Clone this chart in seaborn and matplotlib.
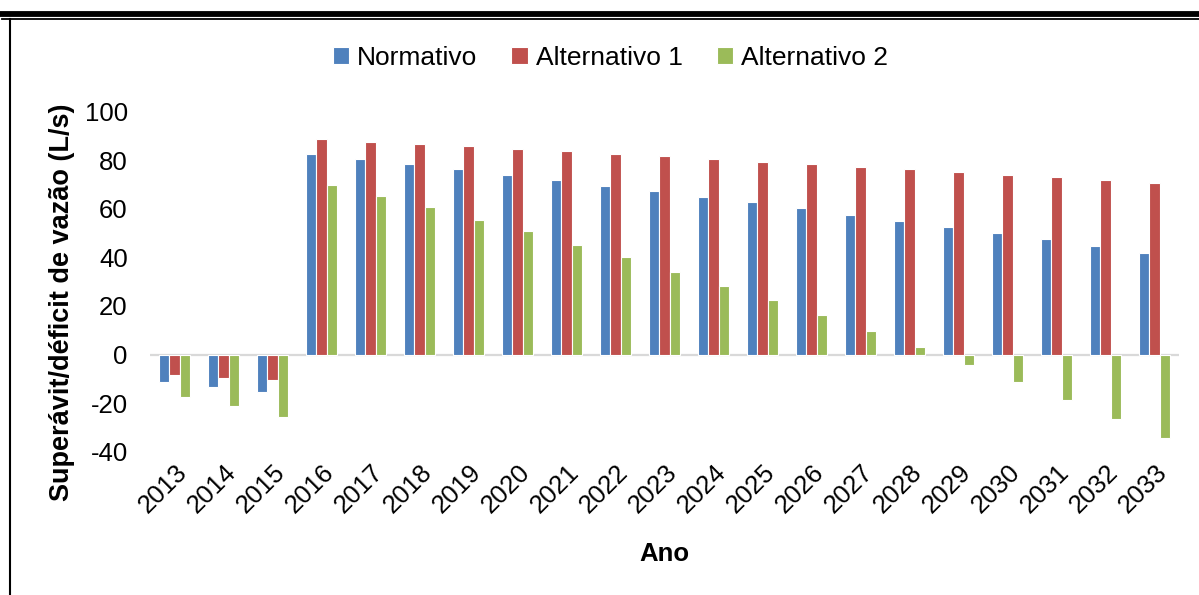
import pandas as pd
import matplotlib.pyplot as plt
import matplotlib.lines as mlines
import seaborn as sns

# Dados
anos = [str(a) for a in range(2013, 2034)]
normativo = [-11.3, -13.3, -15.3, 82.5, 80.6, 78.5, 76.3, 74.1, 71.9, 69.6, 67.4,
             65.0, 62.7, 60.2, 57.6, 55.1, 52.7, 50.0, 47.4, 44.7, 41.9]
alternativo1 = [-8.5, -9.5, -10.3, 88.6, 87.7, 86.7, 85.7, 84.6, 83.7, 82.6, 81.6,
                80.5, 79.4, 78.5, 77.4, 76.3, 75.2, 74.1, 73.0, 71.8, 70.8]
alternativo2 = [-17.3, -21.3, -25.6, 70.0, 65.3, 60.6, 55.6, 50.7, 45.3, 40.0, 34.2,
                28.4, 22.4, 16.2, 9.7, 3.0, -4.1, -11.1, -18.6, -26.4, -34.2]
series = ['Normativo', 'Alternativo 1', 'Alternativo 2']
cores = ['#4F81BD', '#C0504D', '#9BBB59']

df = pd.DataFrame({
    'Ano': anos * 3,
    'valor': normativo + alternativo1 + alternativo2,
    'serie': [s for s in series for _ in anos],
})

plt.rcParams['font.family'] = ['Liberation Sans', 'DejaVu Sans']
plt.rcParams['axes.unicode_minus'] = False

fig = plt.figure(figsize=(11.99, 5.95), dpi=100)
ax = fig.add_axes([0.1251, 0.2408, 0.8582, 0.5715])

sns.barplot(data=df, x='Ano', y='valor', hue='serie', palette=cores, saturation=1,
            width=0.64, edgecolor='white', linewidth=0.8, ax=ax)

ax.set_ylim(-40, 100)
ax.set_xlim(-0.5, 20.5)
ax.set_yticks(range(-40, 101, 20))
ax.axhline(0, color='#d9d9d9', linewidth=1.6, zorder=0.5)
for s in ax.spines.values():
    s.set_visible(False)

ax.tick_params(axis='y', length=0, pad=16, labelsize=18.5)
ax.tick_params(axis='x', length=0, pad=6, labelsize=18.5)
plt.setp(ax.get_xticklabels(), rotation=45, ha='right', rotation_mode='anchor')

ax.set_ylabel('Superávit/déficit de vazão (L/s)', fontsize=19.5, fontweight='bold')
ax.set_xlabel('Ano', fontsize=18.5, fontweight='bold')
ax.yaxis.set_label_coords(-0.073, 0.44)
ax.xaxis.set_label_coords(0.5, -0.265)

sns.move_legend(ax, 'center', bbox_to_anchor=(0.509, 0.9025),
                bbox_transform=fig.transFigure, ncol=3, frameon=False, title=None,
                fontsize=19, handlelength=0.62, handleheight=0.62,
                handletextpad=0.3, columnspacing=1.3)

# bordas do documento
fig.add_artist(mlines.Line2D([0.002, 1.0], [1 - 14 / 595, 1 - 14 / 595],
                             color='black', linewidth=4.2, transform=fig.transFigure))
fig.add_artist(mlines.Line2D([0.002, 1.0], [1 - 19.2 / 595, 1 - 19.2 / 595],
                             color='black', linewidth=1.3, transform=fig.transFigure))
fig.add_artist(mlines.Line2D([10.5 / 1199, 10.5 / 1199], [0, 1 - 19.2 / 595],
                             color='black', linewidth=1.5, transform=fig.transFigure))

fig.savefig('out.png', dpi=100)
